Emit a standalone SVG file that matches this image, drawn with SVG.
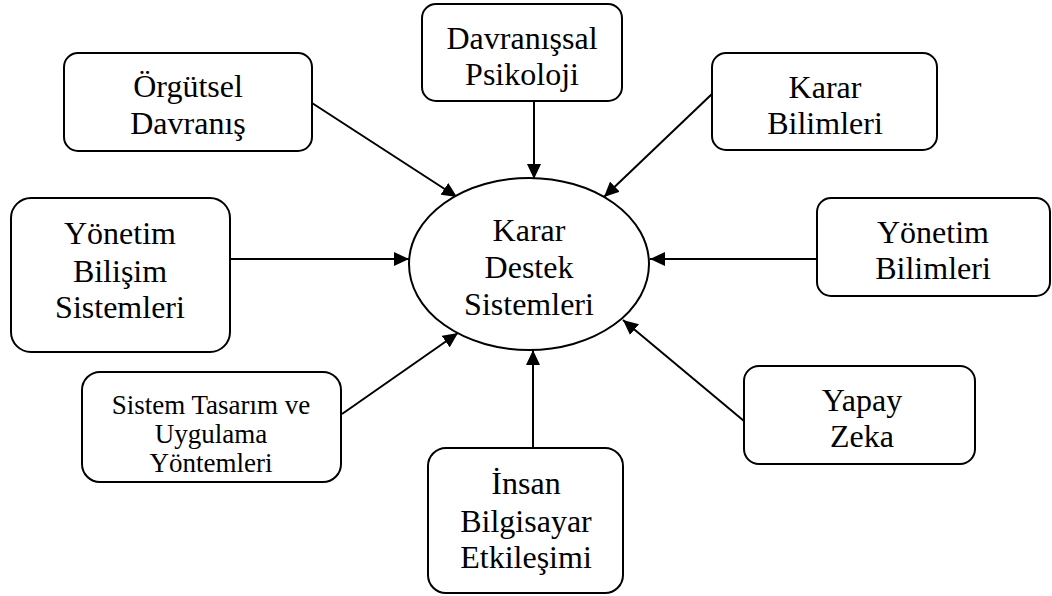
<svg xmlns="http://www.w3.org/2000/svg" width="1052" height="596" viewBox="0 0 1052 596">
  <style>
    .box { fill: #ffffff; stroke: #000000; stroke-width: 2; }
    .lbl { font-family: "Liberation Serif", "Times New Roman", serif; font-size: 32px; fill: #000000; text-anchor: middle; }
    .sm { font-size: 27px; }
    .edge { stroke: #000000; stroke-width: 2; fill: none; marker-end: url(#arrow); }
  </style>
  <defs>
    <marker id="arrow" markerUnits="userSpaceOnUse" markerWidth="16" markerHeight="14" refX="15" refY="7" orient="auto">
      <path d="M0,0 L15,7 L0,14 z" fill="#000000"/>
    </marker>
  </defs>
  <rect width="1052" height="596" fill="#ffffff"/>

  <!-- connectors, all pointing at the central ellipse -->
  <g id="connectors">
    <line class="edge" x1="312" y1="103" x2="457" y2="197"/>
    <line class="edge" x1="534" y1="101" x2="534" y2="179"/>
    <line class="edge" x1="713" y1="93" x2="604" y2="197"/>
    <line class="edge" x1="230" y1="259" x2="409" y2="259"/>
    <line class="edge" x1="817" y1="259" x2="650" y2="259"/>
    <line class="edge" x1="342" y1="414" x2="458" y2="333"/>
    <line class="edge" x1="744" y1="421" x2="623" y2="320"/>
    <line class="edge" x1="533" y1="448" x2="533" y2="350"/>
  </g>

  <g id="node-kds">
    <ellipse class="box" cx="529" cy="264" rx="120" ry="86"/>
    <text class="lbl" x="529" y="241">Karar</text>
    <text class="lbl" x="529" y="278">Destek</text>
    <text class="lbl" x="529" y="315">Sistemleri</text>
  </g>

  <g id="node-orgutsel">
    <rect class="box" x="64" y="53" width="248" height="98" rx="14"/>
    <text class="lbl" x="188" y="97">Örgütsel</text>
    <text class="lbl" x="188" y="134">Davranış</text>
  </g>

  <g id="node-davranissal">
    <rect class="box" x="422" y="4" width="200" height="97" rx="14"/>
    <text class="lbl" x="522" y="49">Davranışsal</text>
    <text class="lbl" x="522" y="85">Psikoloji</text>
  </g>

  <g id="node-karar-bilimleri">
    <rect class="box" x="712" y="53" width="225" height="97" rx="14"/>
    <text class="lbl" x="825" y="98">Karar</text>
    <text class="lbl" x="825" y="134">Bilimleri</text>
  </g>

  <g id="node-ybs">
    <rect class="box" x="11" y="198" width="219" height="154" rx="20"/>
    <text class="lbl" x="120" y="244">Yönetim</text>
    <text class="lbl" x="120" y="282">Bilişim</text>
    <text class="lbl" x="120" y="318">Sistemleri</text>
  </g>

  <g id="node-yonetim-bilimleri">
    <rect class="box" x="817" y="198" width="233" height="98" rx="14"/>
    <text class="lbl" x="933" y="243">Yönetim</text>
    <text class="lbl" x="933" y="279">Bilimleri</text>
  </g>

  <g id="node-sistem-tasarim">
    <rect class="box" x="82" y="372" width="259" height="110" rx="18"/>
    <text class="lbl sm" x="211" y="414">Sistem Tasarım ve</text>
    <text class="lbl sm" x="211" y="443">Uygulama</text>
    <text class="lbl sm" x="211" y="472">Yöntemleri</text>
  </g>

  <g id="node-yapay-zeka">
    <rect class="box" x="744" y="366" width="231" height="98" rx="15"/>
    <text class="lbl" x="862" y="411">Yapay</text>
    <text class="lbl" x="862" y="447">Zeka</text>
  </g>

  <g id="node-ibe">
    <rect class="box" x="428" y="448" width="195" height="145" rx="18"/>
    <text class="lbl" x="526" y="494">İnsan</text>
    <text class="lbl" x="526" y="532">Bilgisayar</text>
    <text class="lbl" x="526" y="568">Etkileşimi</text>
  </g>
</svg>
